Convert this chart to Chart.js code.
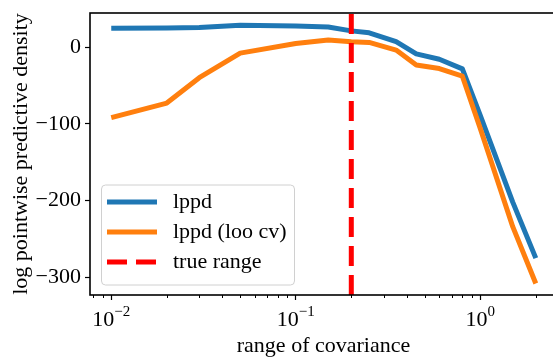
<!DOCTYPE html>
<html>
<head>
<meta charset="utf-8">
<script src="https://cdn.jsdelivr.net/npm/chart.js@4.4.1/dist/chart.umd.min.js"></script>
<style>
  html, body { margin: 0; padding: 0; background: #fff; overflow: hidden; }
  #wrap { width: 553px; height: 359px; overflow: hidden; }
</style>
</head>
<body>
<div id="wrap"><canvas id="grafico" width="560" height="359"></canvas></div>
<script>
// ---------------- DADOS ----------------
const rangeValues = [0.01, 0.02, 0.03, 0.05, 0.1, 0.15, 0.2, 0.25, 0.35, 0.45, 0.6, 0.8, 1.0, 1.5, 2.0];
const lppd = [24.4, 24.8, 25.5, 28.5, 27.5, 26, 21, 18.5, 7, -9, -16, -28.5, -89, -202, -275];
const lppdLoo = [-92, -73, -40, -8, 4.5, 9, 7, 6, -4, -23.5, -28, -38, -106, -234, -308];
const trueRange = 0.2;

const xMajorTicks = [0.01, 0.1, 1];
const xMajorExp = ["\u22122", "\u22121", "0"];
const xMinorTicks = [0.008, 0.009, 0.02, 0.03, 0.04, 0.05, 0.06, 0.07, 0.08, 0.09,
  0.2, 0.3, 0.4, 0.5, 0.6, 0.7, 0.8, 0.9, 2];
const yTicks = [-300, -200, -100, 0];

const xMin = 0.00767, xMax = 2.606;
const yMin = -323, yMax = 44.3;

const FONT = "'Liberation Serif', 'DejaVu Serif', serif";

// ---------------- PLUGIN: moldura, ticks menores, rótulos, legenda ----------------
const extras = {
  id: "extras",
  afterDraw(chart) {
    const c = chart.ctx;
    const a = chart.chartArea;
    const x = chart.scales.x;

    // minor ticks
    c.save();
    c.strokeStyle = "#000";
    c.lineWidth = 1;
    xMinorTicks.forEach(v => {
      const px = Math.round(x.getPixelForValue(v)) + 0.5;
      c.beginPath();
      c.moveTo(px, a.bottom);
      c.lineTo(px, a.bottom + 3);
      c.stroke();
    });

    // x labels 10^n
    c.fillStyle = "#000";
    c.textBaseline = "alphabetic";
    xMajorTicks.forEach((v, i) => {
      const px = x.getPixelForValue(v);
      c.font = "22px " + FONT;
      const wBase = c.measureText("10").width;
      c.font = "15px " + FONT;
      const wExp = c.measureText(xMajorExp[i]).width;
      const start = px - (wBase + wExp) / 2;
      c.font = "22px " + FONT;
      c.textAlign = "left";
      c.fillText("10", start, 326);
      c.font = "15px " + FONT;
      c.fillText(xMajorExp[i], start + wBase, 316);
    });

    // moldura
    c.lineWidth = 1.6;
    c.strokeRect(a.left, a.top, a.right - a.left, a.bottom - a.top);

    // legenda
    const bx = 101.5, by = 185, bw = 193, bh = 100;
    c.beginPath();
    c.roundRect(bx, by, bw, bh, 4);
    c.fillStyle = "rgba(255,255,255,0.8)";
    c.fill();
    c.strokeStyle = "#d0d0d0";
    c.lineWidth = 1;
    c.stroke();

    const rows = [202, 232, 262];
    chart.data.datasets.forEach((ds, i) => {
      const ry = rows[i];
      c.strokeStyle = ds.borderColor;
      c.lineWidth = ds.borderWidth;
      c.setLineDash(ds.borderDash || []);
      c.beginPath();
      c.moveTo(107, ry);
      c.lineTo(157, ry);
      c.stroke();
      c.setLineDash([]);
      c.fillStyle = "#000";
      c.font = "22px " + FONT;
      c.textAlign = "left";
      c.textBaseline = "middle";
      c.fillText(ds.label, 173, ry);
    });
    c.restore();
  }
};

// ---------------- GRÁFICO ----------------
new Chart(document.getElementById("grafico"), {
  type: "line",
  data: {
    datasets: [
      {
        label: "lppd",
        data: rangeValues.map((v, i) => ({ x: v, y: lppd[i] })),
        borderColor: "#1f77b4",
        borderWidth: 5,
        pointRadius: 0,
        borderJoinStyle: "round",
        order: 3
      },
      {
        label: "lppd (loo cv)",
        data: rangeValues.map((v, i) => ({ x: v, y: lppdLoo[i] })),
        borderColor: "#ff7f0e",
        borderWidth: 5,
        pointRadius: 0,
        borderJoinStyle: "round",
        order: 2
      },
      {
        label: "true range",
        data: [{ x: trueRange, y: yMin }, { x: trueRange, y: yMax }],
        borderColor: "#ff0000",
        borderWidth: 5,
        borderDash: [20, 9],
        pointRadius: 0,
        order: 1
      }
    ]
  },
  options: {
    responsive: false,
    animation: false,
    devicePixelRatio: 1,
    layout: { padding: { top: 13, right: 3, left: 0, bottom: 0 } },
    plugins: { legend: { display: false }, tooltip: { enabled: false } },
    scales: {
      x: {
        type: "logarithmic",
        min: xMin,
        max: xMax,
        afterBuildTicks: s => { s.ticks = xMajorTicks.map(v => ({ value: v })); },
        afterFit: s => { s.height = 64; s.paddingLeft = 0; s.paddingRight = 0; },
        grid: { drawOnChartArea: false, drawTicks: true, tickLength: 5, color: "#000", tickWidth: 1.2 },
        border: { display: false },
        ticks: { display: false },
        title: {
          display: true,
          text: "range of covariance",
          color: "#000",
          font: { family: FONT, size: 22 },
          padding: { top: 0, bottom: 0 }
        }
      },
      y: {
        min: yMin,
        max: yMax,
        afterBuildTicks: s => { s.ticks = yTicks.map(v => ({ value: v })); },
        afterFit: s => { s.width = 90; s.paddingTop = 0; s.paddingBottom = 0; },
        grid: { drawOnChartArea: false, drawTicks: true, tickLength: 5, color: "#000", tickWidth: 1.2 },
        border: { display: false },
        ticks: {
          color: "#000",
          padding: 4,
          font: { family: FONT, size: 22 },
          callback: v => v < 0 ? "\u2212" + Math.abs(v) : String(v)
        },
        title: {
          display: true,
          text: "log pointwise predictive density",
          color: "#000",
          font: { family: FONT, size: 22 },
          padding: { top: 8, bottom: 0 }
        }
      }
    }
  },
  plugins: [extras]
});
</script>
</body>
</html>
